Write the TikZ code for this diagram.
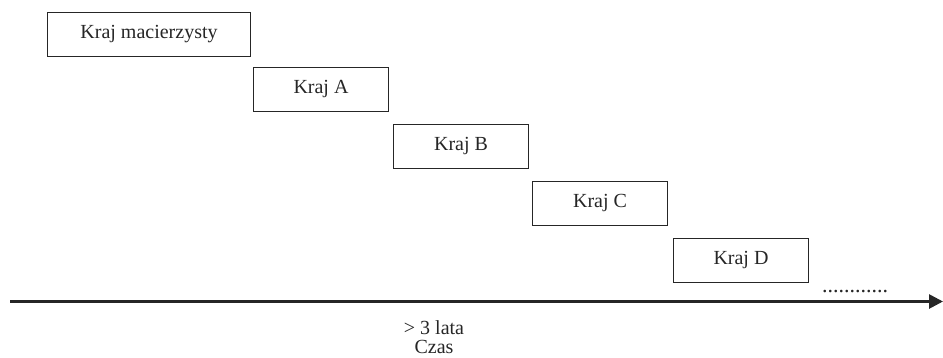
\documentclass[tikz,border=0pt]{standalone}
\usepackage{fontspec}
\setmainfont{Liberation Serif}
\usetikzlibrary{arrows.meta}
\begin{document}
\begin{tikzpicture}[x=1pt,y=-1pt,
  lbl/.style={font=\fontsize{20}{24}\selectfont, text=black!85},
  box/.style={lbl, draw=black!85, line width=1pt, minimum height=44pt, inner sep=0pt, anchor=north west}]
\useasboundingbox (0,0) rectangle (943,357);
\node[box, minimum width=203pt] (h) at (47,12) {Kraj macierzysty};
\node[box, minimum width=135pt] (a) at (253,67) {Kraj A};
\node[box, minimum width=135pt] (b) at (393,124) {Kraj B};
\node[box, minimum width=135pt] (c) at (532,181) {Kraj C};
\node[box, minimum width=135pt] (d) at (673,238) {Kraj D};
\node[lbl, font=\fontsize{22}{24}\selectfont, inner sep=0pt, anchor=base] (dots) at (855,292) {............};
\coordinate (s) at (10,301.5);
\coordinate (e) at (943,301.5);
\draw[line width=2.7pt, black!85, -{Triangle[length=14pt,width=14pt]}] (s) -- (e);
\node[lbl, inner sep=0pt, anchor=base] (t1) at (434,334) {> 3 lata};
\node[lbl, inner sep=0pt, anchor=base] (t2) at (434,353) {Czas};
\end{tikzpicture}
\end{document}
